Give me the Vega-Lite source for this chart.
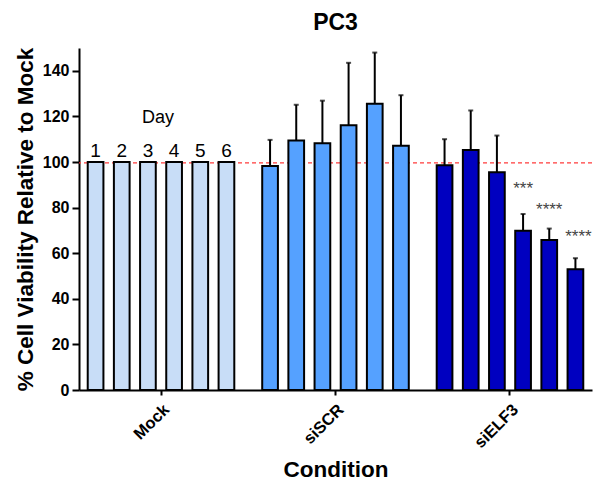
{
  "$schema": "https://vega.github.io/schema/vega-lite/v6.json",
  "width": 513,
  "height": 342,
  "autosize": {"type": "none"},
  "padding": {"left": 79, "top": 48, "right": 1, "bottom": 92},
  "title": {"text": "PC3", "fontSize": 23, "fontWeight": "bold", "font": "Liberation Sans", "anchor": "middle", "frame": "group", "baseline": "alphabetic", "offset": 19, "dy": 25, "color": "#000"},
  "config": {
    "view": {"stroke": null},
    "font": "Liberation Sans",
    "axis": {"grid": false, "domainColor": "#000", "domainWidth": 2, "tickColor": "#000", "tickWidth": 2, "labelColor": "#000", "titleColor": "#000", "labelFont": "Liberation Sans", "titleFont": "Liberation Sans"}
  },
  "datasets": {
    "viab": [
      {"condition": "Mock", "day": "1", "value": 100, "upper": 100},
      {"condition": "Mock", "day": "2", "value": 100, "upper": 100},
      {"condition": "Mock", "day": "3", "value": 100, "upper": 100},
      {"condition": "Mock", "day": "4", "value": 100, "upper": 100},
      {"condition": "Mock", "day": "5", "value": 100, "upper": 100},
      {"condition": "Mock", "day": "6", "value": 100, "upper": 100},
      {"condition": "siSCR", "day": "1", "value": 98.3, "upper": 109.7},
      {"condition": "siSCR", "day": "2", "value": 109.4, "upper": 125.1},
      {"condition": "siSCR", "day": "3", "value": 108.2, "upper": 126.9},
      {"condition": "siSCR", "day": "4", "value": 116.1, "upper": 143.5},
      {"condition": "siSCR", "day": "5", "value": 125.6, "upper": 148.0},
      {"condition": "siSCR", "day": "6", "value": 107.1, "upper": 129.3},
      {"condition": "siELF3", "day": "1", "value": 98.6, "upper": 110.0},
      {"condition": "siELF3", "day": "2", "value": 105.3, "upper": 122.6},
      {"condition": "siELF3", "day": "3", "value": 95.5, "upper": 111.6},
      {"condition": "siELF3", "day": "4", "value": 69.9, "upper": 77.2},
      {"condition": "siELF3", "day": "5", "value": 65.8, "upper": 70.8},
      {"condition": "siELF3", "day": "6", "value": 53.0, "upper": 57.8}
    ]
  },
  "data": {"name": "viab"},
  "encoding": {
    "x": {
      "field": "condition", "type": "nominal",
      "sort": ["Mock", "siSCR", "siELF3"],
      "scale": {"domain": ["Mock", "siSCR", "siELF3"], "paddingInner": 0.1, "paddingOuter": 0.02},
      "axis": {"title": "Condition", "titleFontSize": 22.5, "titleFontWeight": "bold", "titlePadding": 8, "labelAngle": -45, "labelFontSize": 16.5, "labelFontWeight": "bold", "labelPadding": 6, "labelDx": -7, "tickSize": 5}
    },
    "xOffset": {
      "field": "day", "type": "nominal",
      "scale": {"domain": ["1", "2", "3", "4", "5", "6"], "paddingInner": 0.4, "paddingOuter": 0.2}
    }
  },
  "layer": [
    {
      "data": {"values": [{"ref": 99.6}]},
      "mark": {"type": "rule", "color": "#ff3b3b", "strokeDash": [4, 3], "strokeWidth": 1.2},
      "encoding": {"x": null, "xOffset": null, "y": {"field": "ref", "type": "quantitative"}}
    },
    {
      "mark": {"type": "bar", "stroke": "#000", "strokeWidth": 2},
      "encoding": {
        "y": {
          "field": "value", "type": "quantitative",
          "scale": {"domain": [0, 150], "nice": false},
          "axis": {"title": "% Cell Viability Relative to Mock", "titleFontSize": 22.5, "titleFontWeight": "bold", "titlePadding": 5, "values": [0, 20, 40, 60, 80, 100, 120, 140], "labelFontSize": 16, "labelFontWeight": "bold", "labelPadding": 3, "tickSize": 7}
        },
        "fill": {
          "field": "condition", "type": "nominal",
          "scale": {"domain": ["Mock", "siSCR", "siELF3"], "range": ["#c8ddf7", "#55a1ff", "#0000c0"]},
          "legend": null
        }
      }
    },
    {
      "transform": [{"filter": "datum.condition !== 'Mock'"}],
      "mark": {"type": "rule", "color": "#000", "strokeWidth": 2},
      "encoding": {
        "y": {"field": "value", "type": "quantitative"},
        "y2": {"field": "upper"}
      }
    },
    {
      "transform": [{"filter": "datum.condition !== 'Mock'"}],
      "mark": {"type": "tick", "color": "#000", "thickness": 2, "size": 5, "orient": "horizontal"},
      "encoding": {
        "y": {"field": "upper", "type": "quantitative"}
      }
    },
    {
      "transform": [{"filter": "datum.condition === 'Mock'"}],
      "mark": {"type": "text", "fontSize": 19, "color": "#000", "baseline": "alphabetic", "align": "center"},
      "encoding": {
        "y": {"datum": 102.4, "type": "quantitative"},
        "text": {"field": "day"}
      }
    },
    {
      "data": {"values": [{"t": "Day", "condition": "Mock"}]},
      "mark": {"type": "text", "fontSize": 18, "color": "#000", "baseline": "alphabetic", "align": "center", "dx": -3},
      "encoding": {
        "xOffset": null,
        "y": {"datum": 117.3, "type": "quantitative"},
        "text": {"field": "t"}
      }
    },
    {
      "data": {"values": [{"condition": "siELF3", "day": "4", "sig": "***"}]},
      "mark": {"type": "text", "fontSize": 17, "color": "#444", "baseline": "alphabetic", "align": "center"},
      "encoding": {"y": {"datum": 86.0, "type": "quantitative"}, "text": {"field": "sig"}}
    },
    {
      "data": {"values": [{"condition": "siELF3", "day": "5", "sig": "****"}]},
      "mark": {"type": "text", "fontSize": 17, "color": "#444", "baseline": "alphabetic", "align": "center"},
      "encoding": {"y": {"datum": 76.8, "type": "quantitative"}, "text": {"field": "sig"}}
    },
    {
      "data": {"values": [{"condition": "siELF3", "day": "6", "sig": "****"}]},
      "mark": {"type": "text", "fontSize": 17, "color": "#444", "baseline": "alphabetic", "align": "center", "dx": 3},
      "encoding": {"y": {"datum": 65.1, "type": "quantitative"}, "text": {"field": "sig"}}
    }
  ]
}
